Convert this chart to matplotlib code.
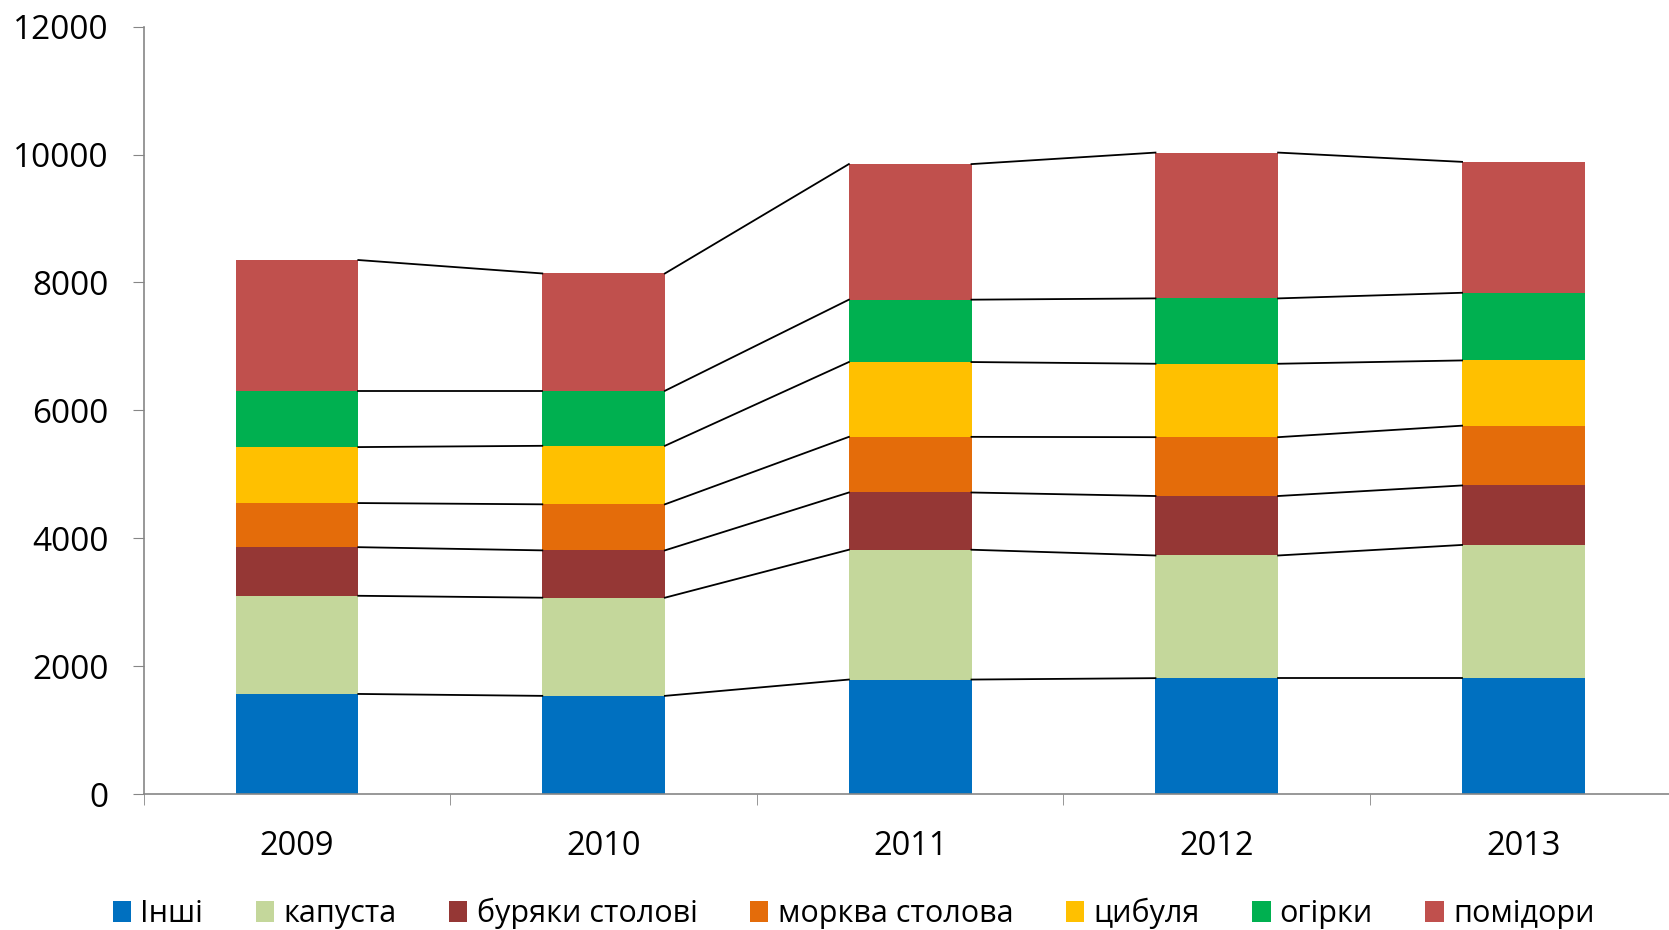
import matplotlib.pyplot as plt
import numpy as np
from matplotlib.patches import Patch

plt.rcParams['font.family'] = ['Open Sans', 'DejaVu Sans']

years = ['2009', '2010', '2011', '2012', '2013']
labels = ['Інші', 'капуста', 'буряки столові', 'морква столова', 'цибуля', 'огірки', 'помідори']
colors = ['#0070C0', '#C4D79B', '#953735', '#E46C0A', '#FFC000', '#00B050', '#C0504D']

inshi = [1565, 1535, 1790, 1812, 1812]
kapusta = [1535, 1535, 2030, 1918, 2083]
buryaky = [760, 740, 895, 930, 930]
morkva = [690, 720, 870, 920, 935]
tsybulia = [875, 915, 1170, 1148, 1020]
ohirky = [880, 860, 975, 1022, 1058]
pomidory = [2045, 1835, 2120, 2280, 2047]

series = [inshi, kapusta, buryaky, morkva, tsybulia, ohirky, pomidory]

fig = plt.figure(figsize=(16.69, 9.30), dpi=100)
ax = fig.add_axes([0.0861, 0.1462, 0.9185, 0.8252])

x = np.arange(len(years))
w = 0.4
bottom = np.zeros(len(years))
for vals, col in zip(series, colors):
    vals = np.array(vals, dtype=float)
    ax.bar(x, vals, w, bottom=bottom, color=col, zorder=2)
    bottom = bottom + vals
    # з'єднувальні лінії між верхніми краями сегментів
    for i in range(len(years) - 1):
        ax.plot([x[i] + w / 2, x[i + 1] - w / 2], [bottom[i], bottom[i + 1]],
                color='black', lw=1.3, zorder=3)

ax.set_xlim(-0.5, len(years) - 0.5)
ax.set_ylim(0, 12000)
ax.set_yticks(np.arange(0, 12001, 2000))
ax.set_xticks(x)
ax.set_xticklabels(years)
ax.set_xticks(np.arange(-0.5, len(years) - 0.5, 1), minor=True)
ax.tick_params(axis='x', which='major', length=0, pad=26, labelsize=23.5)
ax.tick_params(axis='x', which='minor', length=8, color='#868686', direction='out')
ax.tick_params(axis='y', length=8, color='#868686', pad=17, labelsize=24)

for s in ['top', 'right']:
    ax.spines[s].set_visible(False)
for s in ['left', 'bottom']:
    ax.spines[s].set_color('#868686')
    ax.spines[s].set_linewidth(1.2)

handles = [Patch(facecolor=c) for c in colors]
fig.legend(handles, labels, loc='center', bbox_to_anchor=(0.5115, 0.018), ncol=7,
           frameon=False, fontsize=22, handlelength=0.6, handleheight=0.7,
           handletextpad=0.3, columnspacing=1.72)

fig.savefig('out.png', dpi=100)
